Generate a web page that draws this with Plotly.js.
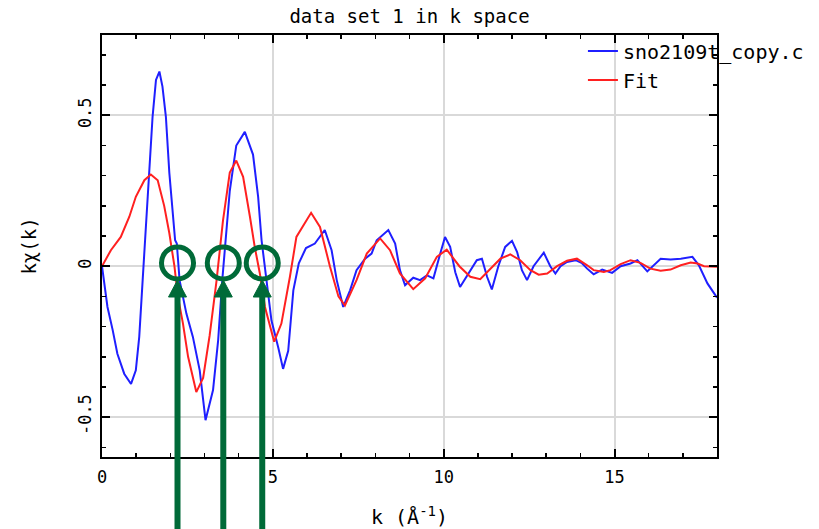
<!DOCTYPE html>
<html>
<head>
<meta charset="utf-8">
<script src="https://cdn.plot.ly/plotly-3.0.1.min.js"></script>
<style>html,body{margin:0;padding:0;background:#fff;}#chart{width:819px;height:529px;}</style>
</head>
<body>
<div id="chart"></div>
<script>
// ---- data ----
const kData = [0,0.06,0.16,0.31,0.45,0.65,0.85,0.99,1.09,1.19,1.28,1.38,1.48,1.58,1.68,1.77,1.87,1.97,2.07,2.14,2.19,2.27,2.47,2.66,2.86,3.03,3.25,3.40,3.52,3.64,3.74,3.93,4.18,4.42,4.57,4.67,4.77,4.96,5.16,5.30,5.45,5.60,5.76,5.97,6.23,6.52,6.72,6.87,7.06,7.26,7.45,7.70,7.89,8.04,8.38,8.58,8.72,8.87,9.11,9.31,9.51,9.70,9.90,10.04,10.19,10.34,10.48,10.73,10.97,11.12,11.27,11.41,11.60,11.80,12.00,12.15,12.29,12.44,12.63,12.93,13.12,13.27,13.42,13.61,13.86,14.05,14.20,14.39,14.64,14.93,15.18,15.47,15.67,15.96,16.15,16.35,16.64,16.94,17.28,17.47,17.72,18.0];
const chiData = [0,-0.046,-0.135,-0.21,-0.29,-0.356,-0.39,-0.345,-0.234,-0.046,0.13,0.31,0.495,0.617,0.645,0.595,0.495,0.31,0.175,0.086,0.075,-0.046,-0.157,-0.234,-0.345,-0.51,-0.41,-0.245,-0.046,0.12,0.25,0.40,0.445,0.37,0.23,0.086,0,-0.18,-0.27,-0.34,-0.28,-0.08,0.01,0.06,0.075,0.12,0.053,-0.046,-0.135,-0.08,-0.013,0.025,0.042,0.086,0.12,0.075,-0.013,-0.063,-0.038,-0.046,-0.03,-0.04,0.042,0.097,0.064,-0.02,-0.069,-0.024,0.02,0.025,-0.035,-0.077,0,0.064,0.084,0.047,-0.013,-0.046,0,0.045,0,-0.024,0,0.014,0.02,0.01,-0.008,-0.027,-0.011,-0.022,0,0.009,0.02,-0.017,0.003,0.025,0.022,0.025,0.031,0.003,-0.057,-0.104];
const kFit = [0,0.26,0.55,0.80,0.99,1.24,1.43,1.63,1.82,1.97,2.12,2.22,2.37,2.52,2.76,2.96,3.15,3.35,3.54,3.74,3.93,4.13,4.33,4.47,4.62,4.77,5.04,5.25,5.50,5.69,6.12,6.38,6.67,6.92,7.11,7.45,7.75,8.14,8.43,8.72,9.11,9.46,9.80,10.09,10.46,10.78,11.07,11.36,11.66,11.95,12.24,12.54,12.78,13.03,13.32,13.61,13.90,14.20,14.39,14.69,14.88,15.18,15.47,15.76,16.05,16.35,16.64,16.94,17.23,17.43,17.62,18.0];
const chiFit = [0,0.053,0.097,0.164,0.23,0.285,0.304,0.285,0.20,0.11,0.0,-0.10,-0.19,-0.30,-0.417,-0.37,-0.23,-0.05,0.15,0.31,0.35,0.296,0.164,0.064,-0.024,-0.135,-0.25,-0.19,-0.035,0.097,0.177,0.13,0.0,-0.10,-0.13,-0.046,0.042,0.092,0.053,-0.024,-0.076,-0.04,0.031,0.055,0.0,-0.035,-0.043,-0.008,0.025,0.039,0.02,-0.013,-0.028,-0.024,0,0.018,0.025,0.003,-0.013,-0.019,-0.013,0.007,0.02,0.011,-0.008,-0.015,-0.011,0.003,0.012,0.009,0,-0.002];
const seriesNames = ["sno2109t_copy.c", "Fit"];
const markedK = [2.21, 3.55, 4.69];   // zero crossings circled in green
const xTickVals = [0, 5, 10, 15];
const yTickVals = [-0.5, 0, 0.5];

const xRange = [0, 18];
const yRange = [-0.632, 0.766];
const FONT = "DejaVu Sans Mono, monospace";
const GREEN = "#006a38";

const traces = [
  {x: kData, y: chiData, name: seriesNames[0], type: "scatter", mode: "lines",
   line: {color: "#1f1fff", width: 2, shape: "linear"}},
  {x: kFit, y: chiFit, name: seriesNames[1], type: "scatter", mode: "lines",
   line: {color: "#ff2020", width: 2, shape: "linear"}}
];

const shapes = [];
markedK.forEach(k => {
  const xp = (k - xRange[0]) / (xRange[1] - xRange[0]);
  // circle around the zero crossing
  shapes.push({type: "circle", xref: "x", yref: "y", xsizemode: "pixel", ysizemode: "pixel",
    xanchor: k, yanchor: 0.011, x0: -16, x1: 16, y0: -16, y1: 16,
    line: {color: GREEN, width: 5}, layer: "above"});
  // arrow shaft
  shapes.push({type: "line", xref: "paper", yref: "paper", xsizemode: "pixel", ysizemode: "pixel",
    xanchor: xp, yanchor: 0, x0: 0, x1: 0, y0: -80, y1: 162,
    line: {color: GREEN, width: 6}, layer: "above"});
  // arrow head
  shapes.push({type: "path", xref: "paper", yref: "paper", xsizemode: "pixel", ysizemode: "pixel",
    xanchor: xp, yanchor: 0, path: "M -9 160 L 9 160 L 0 177 Z",
    fillcolor: GREEN, line: {color: GREEN, width: 1}, layer: "above"});
});

const axisCommon = {
  showline: true, linecolor: "#000", linewidth: 2, mirror: "allticks",
  ticks: "inside", ticklen: 8, tickwidth: 2, tickcolor: "#000",
  showgrid: true, gridcolor: "#d9d9d9", gridwidth: 2, zeroline: false,
  tickfont: {family: FONT, size: 17, color: "#000"}
};

const layout = {
  width: 819, height: 529,
  margin: {l: 102, r: 102, t: 35, b: 72, pad: 0, autoexpand: false},
  paper_bgcolor: "#fff", plot_bgcolor: "#fff",
  font: {family: FONT, color: "#000"},
  title: {text: "data set 1 in k space", font: {family: FONT, size: 19, color: "#000"},
          x: 0.5, xref: "paper", y: 1, yref: "container", yanchor: "top", pad: {t: 10}},
  xaxis: Object.assign({}, axisCommon, {
    range: xRange, tickmode: "array", tickvals: xTickVals, ticktext: xTickVals.map(String),
    ticklabelstandoff: 4,
    minor: {dtick: 1, tick0: 0, ticks: "inside", ticklen: 4, tickwidth: 1.5, tickcolor: "#000", showgrid: false},
    title: {text: "k (Å<sup>-1</sup>)", font: {family: FONT, size: 20, color: "#000"}, standoff: 30}
  }),
  yaxis: Object.assign({}, axisCommon, {
    range: yRange, tickmode: "array", tickvals: yTickVals, ticktext: ["-0.5", "0", "0.5"],
    tickangle: -90, ticklabelstandoff: 2,
    minor: {dtick: 0.1, tick0: 0, ticks: "inside", ticklen: 4, tickwidth: 1.5, tickcolor: "#000", showgrid: false},
    title: {text: "kχ(k)", font: {family: FONT, size: 19, color: "#000"}, standoff: 34}
  }),
  legend: {x: 0.782, y: 1.008, xanchor: "left", yanchor: "top", bgcolor: "rgba(0,0,0,0)",
           borderwidth: 0, font: {family: FONT, size: 20}, tracegroupgap: 0},
  showlegend: true,
  shapes: shapes
};

Plotly.newPlot("chart", traces, layout, {displayModeBar: false, staticPlot: true});
</script>
</body>
</html>
